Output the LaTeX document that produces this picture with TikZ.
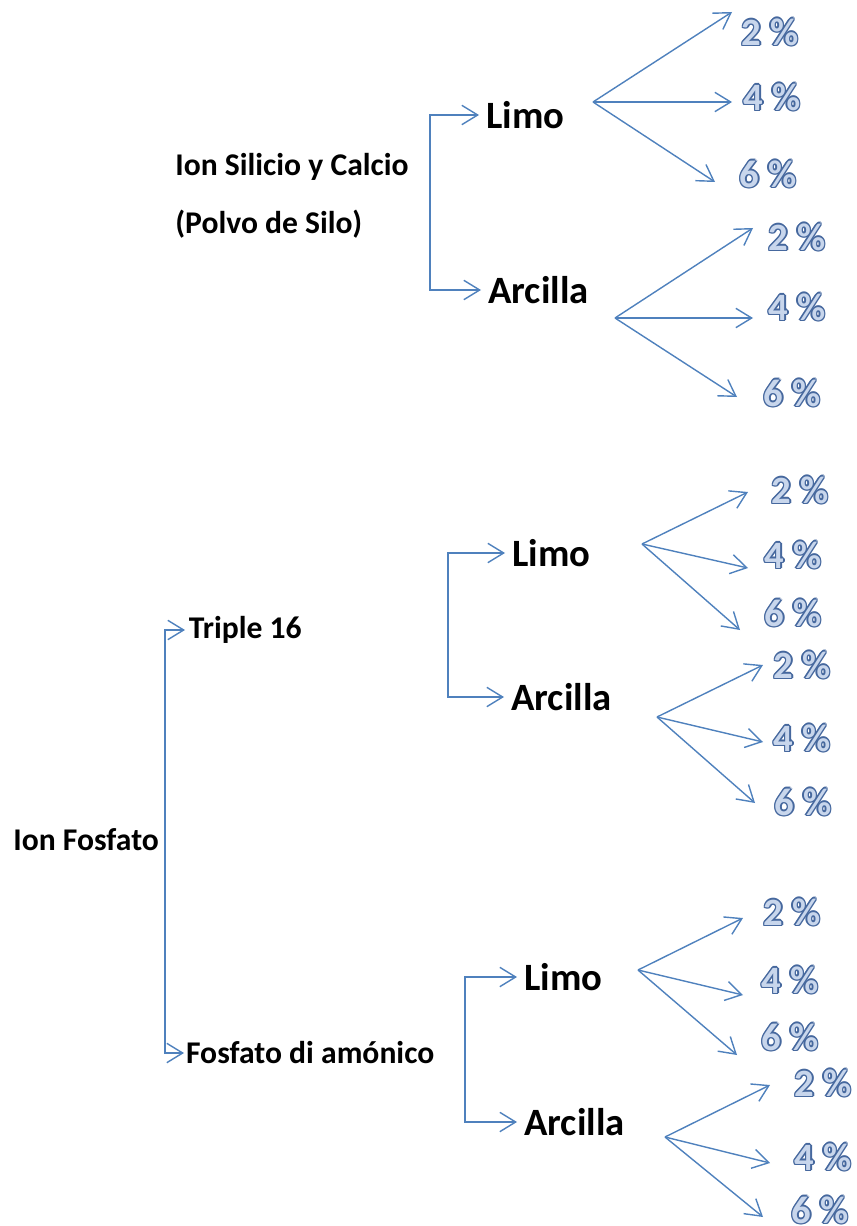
\documentclass[tikz,border=0pt]{standalone}
\usepackage{fontspec}
\setmainfont{Carlito}
\usepackage{tikz}
\usetikzlibrary{arrows.meta}

\definecolor{linkblue}{RGB}{79,129,189}
\definecolor{pctedge}{RGB}{70,104,158}
\definecolor{pctfill}{RGB}{200,214,236}

% outlined percent labels
\newcommand\ringat[3]{\makebox[0pt][l]{\hspace*{#1}\raisebox{#2}{#3}}}
\newcommand\pctword[1]{{\color{pctedge}%
  \ringat{.8pt}{0pt}{#1}\ringat{-.8pt}{0pt}{#1}\ringat{0pt}{.8pt}{#1}\ringat{0pt}{-.8pt}{#1}%
  \ringat{.57pt}{.57pt}{#1}\ringat{-.57pt}{.57pt}{#1}\ringat{.57pt}{-.57pt}{#1}\ringat{-.57pt}{-.57pt}{#1}}%
  {\color{pctfill}#1}}

\begin{document}
\begin{tikzpicture}
    [x=0.02cm,y=-0.02cm,
     pre/.style={<-,draw=linkblue,line width=0.8pt,>={Straight Barb[length=9pt,width=11pt]}},
     post/.style={->,draw=linkblue,line width=0.8pt,>={Straight Barb[length=9pt,width=11pt]}},
     agent/.style={font=\fontsize{18}{33}\selectfont\bfseries,anchor=west,inner sep=0pt,align=left},
     soil/.style={font=\fontsize{22}{26}\selectfont\bfseries,anchor=west,inner sep=4pt},
     dose/.style={font=\fontsize{22}{26}\selectfont\bfseries,inner sep=1pt}]
    \useasboundingbox (0,0) rectangle (856,1226);

    % silicio y calcio
    \node [agent] (silo) at (175,196) {Ion Silicio y Calcio\\(Polvo de Silo)};
    \node [soil] (limoA) at (479,115) {Limo};
    \node [soil] (arcA) at (481,290) {Arcilla};
    \coordinate (bA) at (430,200);
    \draw [post] (bA) |- (limoA.west);
    \draw [post] (bA) |- (arcA.west);

    \coordinate (fA1) at (593,102);
    \node [dose] (pA1) at (770,32) {\pctword{2 \%}};
    \node [dose] (pA2) at (772,97) {\pctword{4 \%}};
    \node [dose] (pA3) at (768,174) {\pctword{6 \%}};
    \coordinate (tA1) at (732,12) edge [pre] (fA1);
    \coordinate (tA2) at (732,102) edge [pre] (fA1);
    \coordinate (tA3) at (715,182) edge [pre] (fA1);

    \coordinate (fA2) at (615,318);
    \node [dose] (pA4) at (797,237) {\pctword{2 \%}};
    \node [dose] (pA5) at (797,307) {\pctword{4 \%}};
    \node [dose] (pA6) at (792,393) {\pctword{6 \%}};
    \coordinate (tA4) at (753,228) edge [pre] (fA2);
    \coordinate (tA5) at (753,318) edge [pre] (fA2);
    \coordinate (tA6) at (737,397) edge [pre] (fA2);

    % fosfato
    \node [agent] (fos) at (13,840) {Ion Fosfato};
    \node [agent,inner sep=2pt] (tri) at (185,630) {Triple 16};
    \node [agent,inner sep=1pt] (dap) at (184,1053) {Fosfato di amónico};
    \coordinate (bF) at (165,840);
    \draw [post] (bF) |- (tri.west);
    \draw [post] (bF) |- (dap.west);

    % triple 16
    \node [soil] (limoB) at (505,553) {Limo};
    \node [soil] (arcB) at (504,697) {Arcilla};
    \coordinate (bB) at (448,628);
    \draw [post] (bB) |- (limoB.west);
    \draw [post] (bB) |- (arcB.west);

    \coordinate (fB1) at (642,544);
    \node [dose] (pB1) at (800,490) {\pctword{2 \%}};
    \node [dose] (pB2) at (793,555) {\pctword{4 \%}};
    \node [dose] (pB3) at (793,613) {\pctword{6 \%}};
    \coordinate (tB1) at (748,492) edge [pre] (fB1);
    \coordinate (tB2) at (748,568) edge [pre] (fB1);
    \coordinate (tB3) at (740,630) edge [pre] (fB1);

    \coordinate (fB2) at (657,717);
    \node [dose] (pB4) at (802,665) {\pctword{2 \%}};
    \node [dose] (pB5) at (802,738) {\pctword{4 \%}};
    \node [dose] (pB6) at (803,802) {\pctword{6 \%}};
    \coordinate (tB4) at (763,665) edge [pre] (fB2);
    \coordinate (tB5) at (763,742) edge [pre] (fB2);
    \coordinate (tB6) at (755,803) edge [pre] (fB2);

    % fosfato di amonico
    \node [soil] (limoC) at (517,977) {Limo};
    \node [soil] (arcC) at (517,1122) {Arcilla};
    \coordinate (bC) at (465,1053);
    \draw [post] (bC) |- (limoC.west);
    \draw [post] (bC) |- (arcC.west);

    \coordinate (fC1) at (638,970);
    \node [dose] (pC1) at (792,912) {\pctword{2 \%}};
    \node [dose] (pC2) at (790,980) {\pctword{4 \%}};
    \node [dose] (pC3) at (790,1037) {\pctword{6 \%}};
    \coordinate (tC1) at (743,918) edge [pre] (fC1);
    \coordinate (tC2) at (743,995) edge [pre] (fC1);
    \coordinate (tC3) at (737,1055) edge [pre] (fC1);

    \coordinate (fC2) at (665,1137);
    \node [dose] (pC4) at (823,1083) {\pctword{2 \%}};
    \node [dose] (pC5) at (823,1157) {\pctword{4 \%}};
    \node [dose] (pC6) at (820,1210) {\pctword{6 \%}};
    \coordinate (tC4) at (770,1085) edge [pre] (fC2);
    \coordinate (tC5) at (770,1163) edge [pre] (fC2);
    \coordinate (tC6) at (763,1217) edge [pre] (fC2);
  \end{tikzpicture}
\end{document}
